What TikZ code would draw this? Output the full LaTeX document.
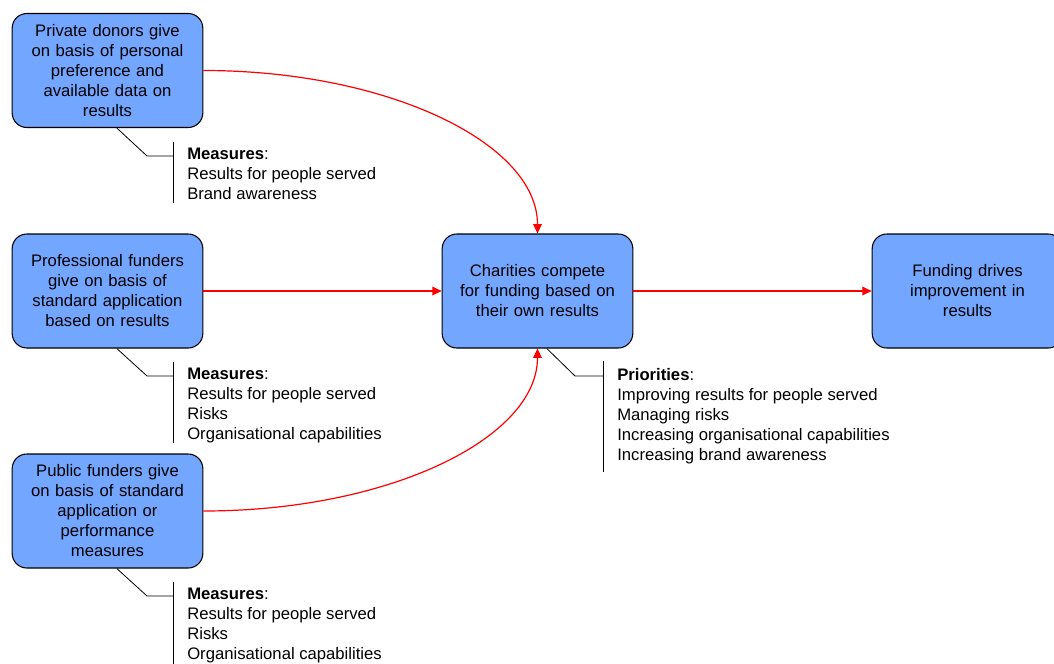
\documentclass[tikz,border=0pt]{standalone}
\usepackage{fontspec}
\setmainfont{Liberation Sans}
\usetikzlibrary{arrows.meta}
\definecolor{stage_fill}{RGB}{115,166,255}
\colorlet{flow_line}{red}
\colorlet{callout_line}{black}

\begin{document}
\begin{tikzpicture}[
    x=0.75pt, y=-0.75pt,
    >={Triangle[length=7pt, width=6.5pt]},
    stage/.style={draw=black, line width=0.8pt, fill=stage_fill, rounded corners=11pt,
      minimum width=143pt, minimum height=85.5pt, text width=135pt, align=center,
      font=\fontsize{12.5}{15}\selectfont},
    flow/.style={color=flow_line, line width=0.9pt, ->},
    callout/.style={color=callout_line, line width=0.6pt},
    note/.style={anchor=north west, inner sep=0pt, align=left,
      font=\fontsize{12.5}{15}\selectfont},
  ]
  \useasboundingbox (0,0) rectangle (1054,664);

  %%%%%%%%%% Stages %%%%%%%%%%
  \node[stage] (private) at (107.5,70.5)
    {Private donors give\\on basis of personal\\preference and\\available data on\\results};
  \node[stage] (professional) at (107.5,291)
    {Professional funders\\give on basis of\\standard application\\based on results};
  \node[stage] (public) at (107.5,511)
    {Public funders give\\on basis of standard\\application or\\performance\\measures};
  \node[stage] (charities) at (537.5,291)
    {Charities compete\\for funding based on\\their own results};
  \node[stage] (funding) at (967.5,291)
    {Funding drives\\improvement in\\results};

  %%%%%%%%%% Flows %%%%%%%%%%
  \draw[flow] (private.east) .. controls +(185,0) and +(0,-90) .. (charities.north);
  \draw[flow] (professional.east) -- (charities.west);
  \draw[flow] (public.east) .. controls +(185,0) and +(0,90) .. (charities.south);
  \draw[flow] (charities.east) -- (funding.west);

  %%%%%%%%%% Callouts %%%%%%%%%%
  \foreach \stage/\bend/\top/\bottom in {
    private/156/142/203,
    professional/376/362/443,
    public/596/582/670
  } {
    \draw[callout] ([xshift=7pt]\stage.south) -- (147,\bend) -- (173,\bend);
    \draw[callout] (173,\top) -- (173,\bottom);
  }
  \draw[callout] ([xshift=7pt]charities.south) -- (575,376) -- (603,376);
  \draw[callout] (603,361) -- (603,472);

  %%%%%%%%%% Notes %%%%%%%%%%
  \node[note] (privatenote) at (187,148)
    {\textbf{Measures}:\\Results for people served\\Brand awareness};
  \node[note] (professionalnote) at (187,368)
    {\textbf{Measures}:\\Results for people served\\Risks\\Organisational capabilities};
  \node[note] (publicnote) at (187,588)
    {\textbf{Measures}:\\Results for people served\\Risks\\Organisational capabilities};
  \node[note] (charitiesnote) at (617,368)
    {\textbf{Priorities}:\\Improving results for people served\\Managing risks\\Increasing organisational capabilities\\Increasing brand awareness};

\end{tikzpicture}
\end{document}
